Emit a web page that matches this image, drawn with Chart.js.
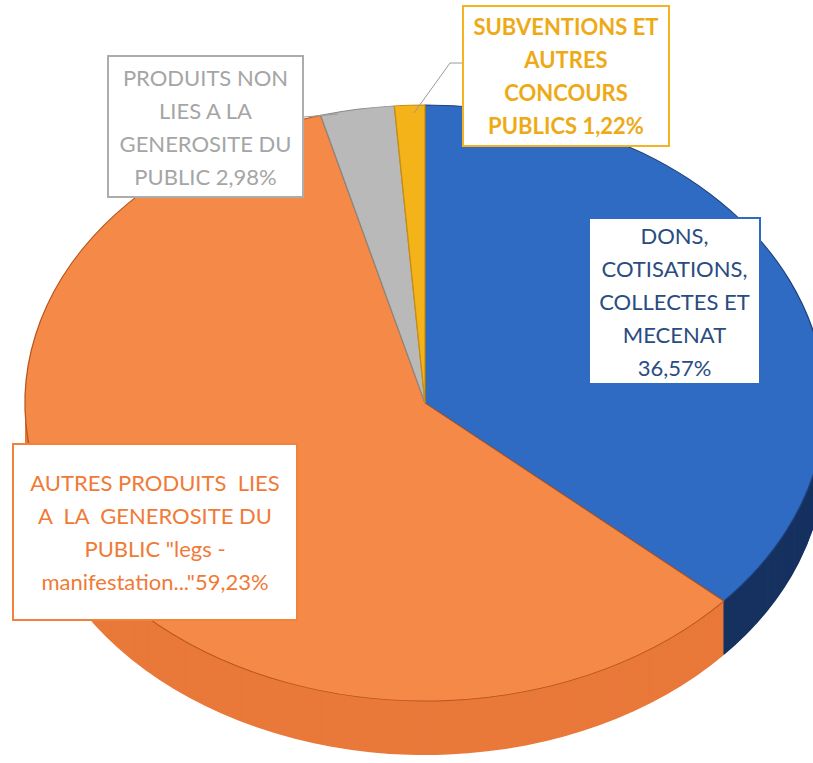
<!DOCTYPE html>
<html lang="fr">
<head>
<meta charset="utf-8">
<title>Ressources</title>
<script src="https://cdn.jsdelivr.net/npm/chart.js@4.4.1/dist/chart.umd.min.js"></script>
<style>
  html, body { margin: 0; padding: 0; background: #fff; }
  #wrap { position: relative; width: 813px; height: 763px; overflow: hidden; }
  #pie { position: absolute; left: 0; top: 0; }
  .lbl {
    position: absolute; box-sizing: border-box; background: #fff;
    display: flex; flex-direction: column; justify-content: center; align-items: center;
    font-family: Lato, "Open Sans", sans-serif; font-size: 22px; line-height: 33px;
    white-space: pre; text-align: center;
  }
</style>
</head>
<body>
<div id="wrap">
  <canvas id="pie" width="813" height="763"></canvas>
</div>
<script>
// Data
const categories = [
  'DONS, COTISATIONS, COLLECTES ET MECENAT',
  'AUTRES PRODUITS LIES A LA GENEROSITE DU PUBLIC "legs - manifestation..."',
  'PRODUITS NON LIES A LA GENEROSITE DU PUBLIC',
  'SUBVENTIONS ET AUTRES CONCOURS PUBLICS'
];
const values = [36.57, 59.23, 2.98, 1.22];

// line breaks of the data labels, {v} = value
const labelLines = [
  ['DONS,', 'COTISATIONS,', 'COLLECTES ET', 'MECENAT', '{v}'],
  ['AUTRES PRODUITS  LIES', 'A  LA  GENEROSITE DU', 'PUBLIC "legs -', 'manifestation..."{v}'],
  ['PRODUITS NON', 'LIES A LA', 'GENEROSITE DU', 'PUBLIC {v}'],
  ['SUBVENTIONS ET', 'AUTRES', 'CONCOURS', 'PUBLICS {v}']
];

// colours
const topColors = ['#2f6bc2', '#f58a48', '#b9b9b9', '#f5b31a'];
const sideColors = ['#173260', '#e9793a', '#9a9a9a', '#d99a12'];
const edgeColors = ['#1d427c', '#b8561e', '#8a8a8a', '#c98e0c'];
const textColors = ['#2a4c80', '#f07a36', '#a5a5a5', '#eeaa16'];
const boxBorders = ['#2f6bc2', '#f2813e', '#acacac', '#f3b322'];

// label boxes: left, top, width, height
const boxes = [
  [588, 217, 173, 168],
  [12, 443, 286, 178],
  [107, 55, 197, 143],
  [462, 5, 208, 142]
];

// tilted pie geometry
const CX = 425, CY = 403, RX = 400, RY = 298, DEPTH = 54;

function fmt(v) {
  return v.toFixed(2).replace('.', ',') + '%';
}

function place(ctx, p, d) {
  ctx.translate(CX, CY + d);
  ctx.scale(RX / p.outerRadius, RY / p.outerRadius);
  ctx.translate(-p.x, -p.y);
}

const pie3d = {
  id: 'pie3d',
  beforeDatasetsDraw(chart) {
    const ctx = chart.ctx;
    const arcs = chart.getDatasetMeta(0).data;
    const p0 = arcs[0].getProps(['x', 'y', 'outerRadius'], true);
    // side wall, stacked from bottom up
    for (let d = DEPTH; d > 0; d--) {
      ctx.save();
      place(ctx, p0, d);
      arcs.forEach((arc, i) => {
        const p = arc.getProps(['x', 'y', 'startAngle', 'endAngle', 'outerRadius'], true);
        ctx.beginPath();
        ctx.moveTo(p.x, p.y);
        ctx.arc(p.x, p.y, p.outerRadius, p.startAngle, p.endAngle);
        ctx.closePath();
        ctx.fillStyle = sideColors[i];
        ctx.fill();
      });
      ctx.restore();
    }
    ctx.save();
    place(ctx, p0, 0);
  },
  afterDatasetsDraw(chart) {
    chart.ctx.restore();
  }
};

// leader lines of the two small slices
const leaders = {
  id: 'leaders',
  afterDraw(chart) {
    const ctx = chart.ctx;
    ctx.save();
    ctx.strokeStyle = '#9a9a9a';
    ctx.lineWidth = 1;
    ctx.beginPath();
    ctx.moveTo(462, 63);
    ctx.lineTo(450, 63);
    ctx.lineTo(414, 113);
    ctx.moveTo(304, 117);
    ctx.lineTo(338, 114);
    ctx.stroke();
    ctx.restore();
  }
};

new Chart(document.getElementById('pie'), {
  type: 'pie',
  data: {
    labels: categories,
    datasets: [{
      data: values,
      backgroundColor: topColors,
      borderColor: edgeColors,
      borderWidth: 1.2,
      clip: false
    }]
  },
  options: {
    responsive: false,
    animation: false,
    events: [],
    layout: { padding: 0 },
    plugins: {
      legend: { display: false },
      tooltip: { enabled: false }
    }
  },
  plugins: [pie3d, leaders]
});

// data labels
const wrap = document.getElementById('wrap');
labelLines.forEach((lines, i) => {
  const b = boxes[i];
  const div = document.createElement('div');
  div.className = 'lbl';
  div.style.left = b[0] + 'px';
  div.style.top = b[1] + 'px';
  div.style.width = b[2] + 'px';
  div.style.height = b[3] + 'px';
  div.style.color = textColors[i];
  div.style.border = '2px solid ' + boxBorders[i];
  if (i === 3) div.style.fontWeight = 'bold';
  lines.forEach(t => {
    const s = document.createElement('span');
    s.textContent = t.replace('{v}', fmt(values[i]));
    div.appendChild(s);
  });
  wrap.appendChild(div);
});
</script>
</body>
</html>
